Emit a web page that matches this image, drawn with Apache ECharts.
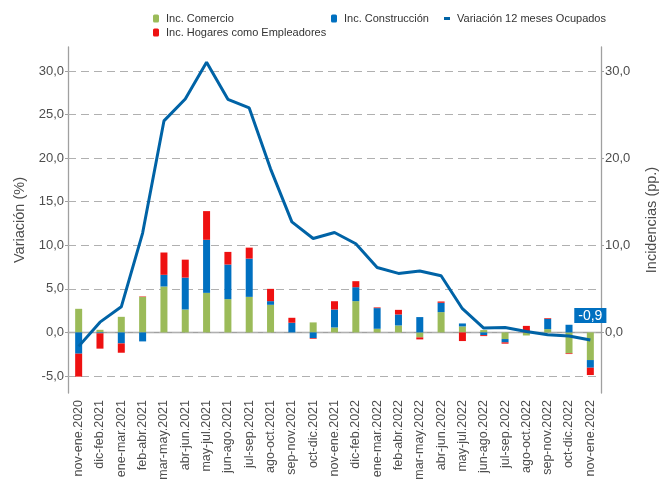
<!DOCTYPE html>
<html>
<head>
<meta charset="utf-8">
<script src="https://cdn.jsdelivr.net/npm/echarts@6/dist/echarts.min.js"></script>
<style>
  html, body { margin: 0; padding: 0; background: #fff; }
  #grafico { width: 665px; height: 481px; }
</style>
</head>
<body>
<div id="grafico"></div>
<script>
// datos
var categorias = ['nov-ene.2020', 'dic-feb.2021', 'ene-mar.2021', 'feb-abr.2021', 'mar-may.2021',
    'abr-jun.2021', 'may-jul.2021', 'jun-ago.2021', 'jul-sep.2021', 'ago-oct.2021', 'sep-nov.2021',
    'oct-dic.2021', 'nov-ene.2021', 'dic-feb.2022', 'ene-mar.2022', 'feb-abr.2022', 'mar-may.2022',
    'abr-jun.2022', 'may-jul.2022', 'jun-ago.2022', 'jul-sep.2022', 'ago-oct.2022', 'sep-nov.2022',
    'oct-dic.2022', 'nov-ene.2022'];

var comercio = [2.71, 0.3, 1.79, 4.08, 5.27, 2.63, 4.54, 3.82, 4.08, 3.17, 0, 1.15, 0.57,
    3.59, 0.42, 0.80, -0.57, 2.33, 0.69, 0.27, -0.76, -0.35, 0.38, -2.40, -3.17];
var construccion = [-2.44, -0.1, -1.26, -1.03, 1.34, 3.66, 6.09, 3.97, 4.39, 0.42, 1.11, -0.65, 2.06,
    1.60, 2.37, 1.26, 1.76, 1.07, 0.34, -0.31, -0.38, 0, 1.18, 0.88, -0.88];
var hogares = [-2.63, -1.76, -1.07, 0.05, 2.56, 2.06, 3.29, 1.45, 1.26, 1.41, 0.57, -0.08, 0.95,
    0.69, 0.08, 0.53, -0.23, 0.15, -0.99, -0.11, -0.15, 0.75, 0.08, -0.08, -0.84];
var ocupados = [-1.6, 1.18, 2.94, 11.4, 24.27, 26.79, 31.0, 26.75, 25.76, 18.77, 12.69, 10.78, 11.47,
    10.17, 7.45, 6.77, 7.04, 6.5, 2.72, 0.5, 0.57, 0.11, -0.27, -0.42, -0.88];

var ticksIzq = [-5, 0, 5, 10, 15, 20, 25, 30];
var ticksDer = [0, 10, 20, 30];

var gris = '#4d4d4d';
var fmt = function (v) { return v.toFixed(1).replace('.', ','); };

// la linea: solo el ultimo punto lleva etiqueta
var datosLinea = ocupados.map(function (v, i) {
    if (i === ocupados.length - 1) {
        return {
            value: v,
            label: {
                show: true,
                position: 'top',
                distance: 17,
                formatter: function (p) { return fmt(p.value); },
                color: '#fff',
                backgroundColor: '#0070c0',
                fontFamily: 'Liberation Sans',
                fontSize: 14,
                padding: [1, 4, 0, 4]
            }
        };
    }
    return v;
});

var myChart = echarts.init(document.getElementById('grafico'));

var leyendaBase = {
    orient: 'horizontal',
    padding: 0,
    itemWidth: 6,
    itemHeight: 8,
    selectedMode: false,
    textStyle: { fontFamily: 'Liberation Sans', fontSize: 11, color: '#333', padding: [0, 0, 0, 2] }
};

var option = {
    animation: false,
    backgroundColor: '#fff',
    legend: [
        Object.assign({}, leyendaBase, { left: 153, top: 13, data: ['Inc. Comercio'] }),
        Object.assign({}, leyendaBase, { left: 153, top: 27, data: ['Inc. Hogares como Empleadores'] }),
        Object.assign({}, leyendaBase, { left: 331, top: 13, data: ['Inc. Construcción'] }),
        Object.assign({}, leyendaBase, { left: 444, top: 13, itemHeight: 3, icon: 'rect',
            data: ['Variación 12 meses Ocupados'] })
    ],
    grid: { left: 68, right: 64, top: 47, bottom: 88, containLabel: false, outerBoundsMode: 'none' },
    xAxis: {
        type: 'category',
        data: categorias,
        boundaryGap: true,
        axisLine: { lineStyle: { color: '#a0a0a0', width: 1.3 } },
        axisTick: { alignWithLabel: true, length: 4, lineStyle: { color: '#a0a0a0' } },
        axisLabel: { rotate: 90, interval: 0, margin: 7, fontFamily: 'Liberation Sans', fontSize: 12.5, color: gris },
        splitLine: { show: false }
    },
    yAxis: [
        {
            type: 'value',
            position: 'left',
            min: -6.95,
            max: 32.75,
            name: 'Variación (%)',
            nameLocation: 'middle',
            nameGap: 36,
            nameRotate: 90,
            nameTextStyle: { fontFamily: 'Liberation Sans', fontSize: 14.5, color: gris },
            axisLine: { show: true, lineStyle: { color: '#a0a0a0', width: 1.3 } },
            axisTick: { show: true, length: 3, customValues: ticksIzq, lineStyle: { color: '#a0a0a0' } },
            axisLabel: { customValues: ticksIzq, margin: 4, formatter: fmt,
                fontFamily: 'Liberation Sans', fontSize: 13, color: gris },
            splitLine: { show: false }
        },
        {
            type: 'value',
            position: 'right',
            min: -6.95,
            max: 32.75,
            name: 'Incidencias (pp.)',
            nameLocation: 'middle',
            nameGap: 43,
            nameRotate: 90,
            nameTextStyle: { fontFamily: 'Liberation Sans', fontSize: 14.5, color: gris },
            axisLine: { show: true, lineStyle: { color: '#a0a0a0', width: 1.3 } },
            axisTick: { show: true, length: 3, customValues: ticksDer, lineStyle: { color: '#a0a0a0' } },
            axisLabel: { customValues: ticksDer, margin: 4, formatter: fmt,
                fontFamily: 'Liberation Sans', fontSize: 13, color: gris },
            splitLine: { show: false }
        }
    ],
    series: [
        {
            name: 'Inc. Comercio',
            type: 'bar',
            stack: 'inc',
            barWidth: 7,
            itemStyle: { color: '#9bbb59' },
            data: comercio,
            // lineas de la cuadricula, detras de las barras
            markLine: {
                silent: true,
                z: 1,
                symbol: 'none',
                label: { show: false },
                lineStyle: { type: [8, 5], color: '#b0b0b0', width: 1.2 },
                data: ticksIzq.map(function (v) { return { yAxis: v }; })
            }
        },
        {
            name: 'Inc. Construcción',
            type: 'bar',
            stack: 'inc',
            barWidth: 7,
            itemStyle: { color: '#0070c0' },
            data: construccion
        },
        {
            name: 'Inc. Hogares como Empleadores',
            type: 'bar',
            stack: 'inc',
            barWidth: 7,
            itemStyle: { color: '#ee1111' },
            data: hogares
        },
        {
            name: 'Variación 12 meses Ocupados',
            type: 'line',
            z: 4,
            symbol: 'circle',
            symbolSize: 0,
            showSymbol: true,
            showAllSymbol: true,
            lineStyle: { color: '#0063a6', width: 3 },
            itemStyle: { color: '#0063a6' },
            data: datosLinea
        }
    ]
};

myChart.setOption(option);
</script>
</body>
</html>
